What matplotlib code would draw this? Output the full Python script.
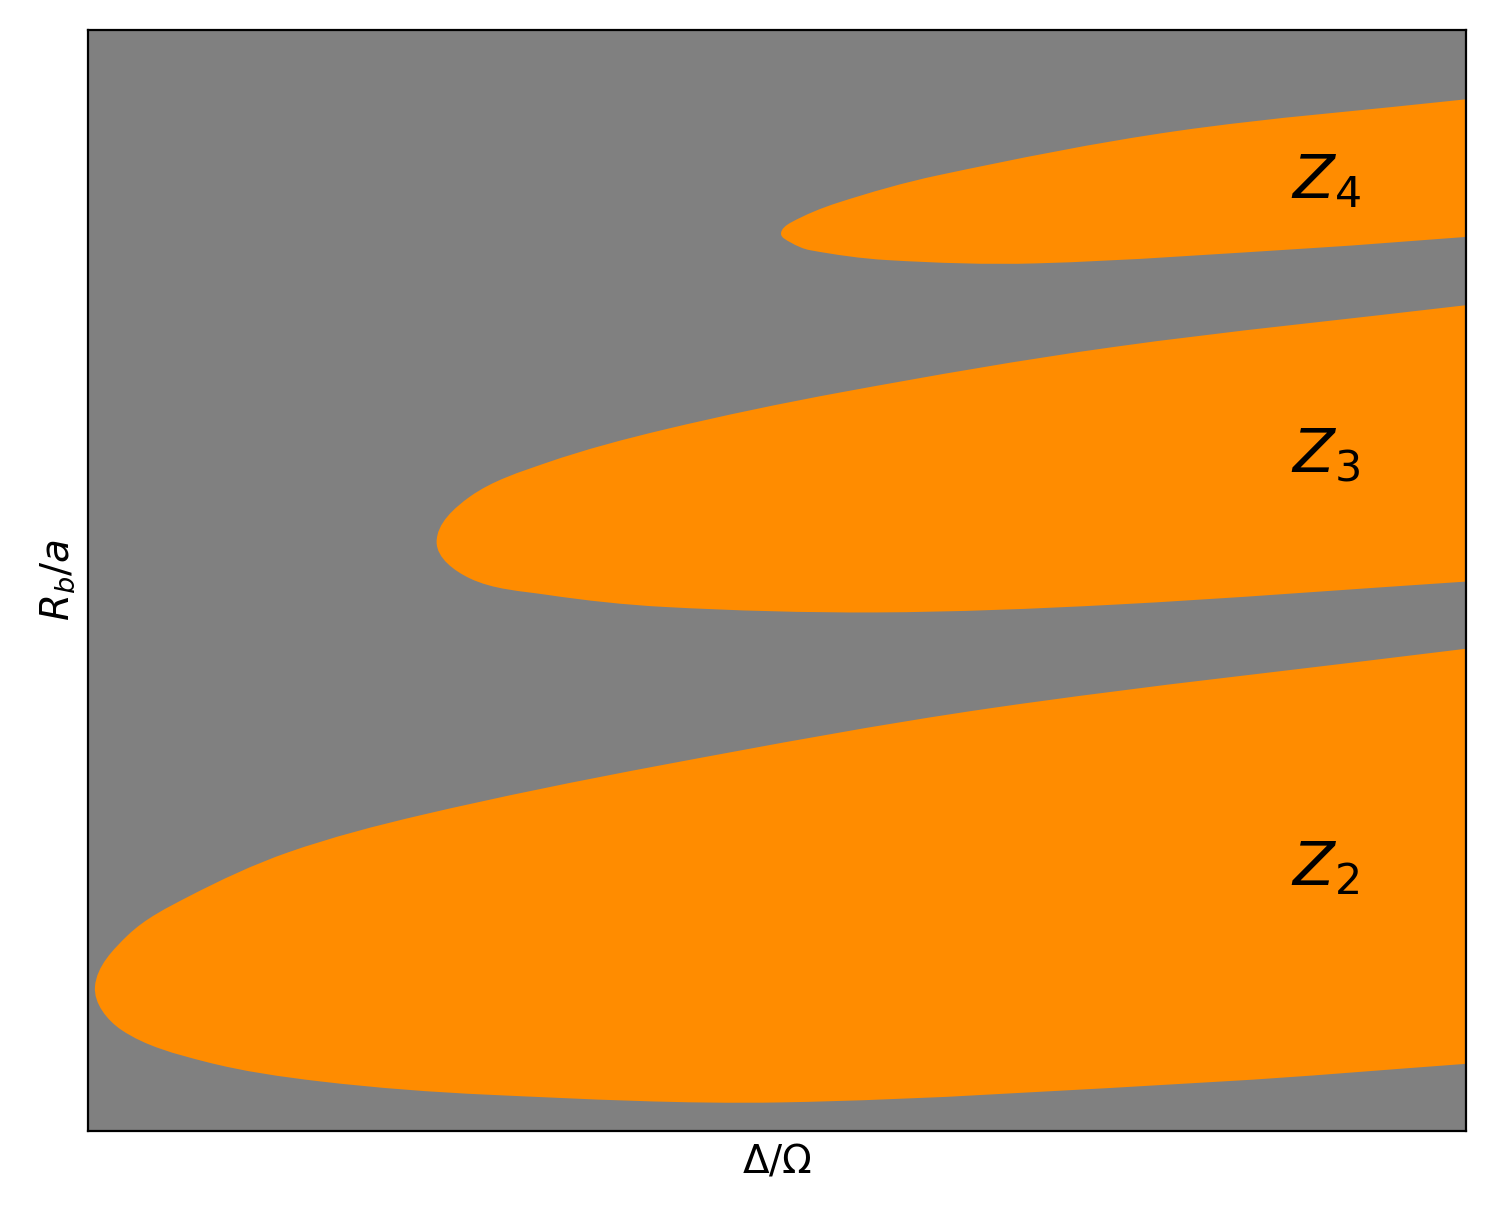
import numpy as np
import matplotlib.pyplot as plt
from matplotlib.path import Path
from matplotlib.patches import PathPatch

# lobe boundaries (upper edge right->tip, then lower edge tip->right)
z2_x = [10.0, 6.55, 4.15, 2.42, 1.45, 0.73, 0.29, 0.05,
        0.24, 0.85, 1.69, 2.90, 5.03, 8.23, 10.0]
z2_y = [4.38, 3.84, 3.32, 2.87, 2.53, 2.13, 1.78, 1.31,
        0.92, 0.63, 0.45, 0.33, 0.26, 0.45, 0.61]

z3_x = [10.0, 7.44, 5.47, 4.18, 3.33, 2.77, 2.53,
        2.77, 3.33, 4.18, 5.72, 7.44, 10.0]
z3_y = [7.50, 7.12, 6.71, 6.37, 6.07, 5.76, 5.35,
        5.02, 4.87, 4.76, 4.71, 4.78, 4.99]

z4_x = [10.0, 7.89, 6.17, 5.44, 5.10, 5.03,
        5.10, 5.24, 5.80, 6.88, 8.90, 10.0]
z4_y = [9.37, 9.08, 8.68, 8.43, 8.25, 8.15,
        8.07, 8.00, 7.91, 7.88, 8.02, 8.12]

labels = [r'$Z_2$', r'$Z_3$', r'$Z_4$']
label_x = [8.73, 8.73, 8.73]
label_y = [2.23, 5.98, 8.47]


def lobe_patch(xs, ys, **kw):
    # smooth outline through the read points: cubic Beziers with chord-length handles
    sx, sy = 137.7, 110.1   # data units -> approx pixels, so tangents are isotropic
    pts = np.column_stack([np.asarray(xs) * sx, np.asarray(ys) * sy])
    n = len(pts)
    tang = np.zeros_like(pts)
    tang[0] = pts[1] - pts[0]
    tang[-1] = pts[-1] - pts[-2]
    tang[1:-1] = pts[2:] - pts[:-2]
    tang /= np.linalg.norm(tang, axis=1)[:, None]
    verts = [pts[0]]
    codes = [Path.MOVETO]
    for i in range(n - 1):
        d = np.linalg.norm(pts[i + 1] - pts[i]) / 3
        verts += [pts[i] + tang[i] * d, pts[i + 1] - tang[i + 1] * d, pts[i + 1]]
        codes += [Path.CURVE4] * 3
    verts.append(pts[0])
    codes.append(Path.CLOSEPOLY)
    verts = np.array(verts) / [sx, sy]
    return PathPatch(Path(verts, codes), **kw)


fig = plt.figure(figsize=(7.475, 6.09), dpi=200)
ax = fig.add_axes([0.0589, 0.0714, 0.9215, 0.904])
ax.set_facecolor('gray')

for xs, ys in [(z2_x, z2_y), (z3_x, z3_y), (z4_x, z4_y)]:
    ax.add_patch(lobe_patch(xs, ys, facecolor='darkorange', edgecolor='none'))

for lab, lx, ly in zip(labels, label_x, label_y):
    ax.text(lx, ly, lab, fontsize=22, ha='left', va='baseline')

ax.set_xlim(0, 10)
ax.set_ylim(0, 10)
ax.set_xticks([])
ax.set_yticks([])
ax.set_xlabel(r'$\Delta/\Omega$', fontsize=14)
ax.set_ylabel(r'$R_b/a$', fontsize=14)

fig.savefig('out.png', dpi=200)
